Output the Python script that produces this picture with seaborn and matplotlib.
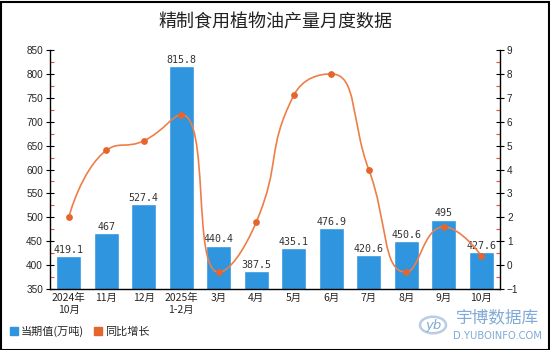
import numpy as np
import pandas as pd
import matplotlib
matplotlib.use("Agg")
import matplotlib.pyplot as plt
from matplotlib.path import Path
from matplotlib.patches import PathPatch, Rectangle, Circle
from matplotlib.lines import Line2D
from matplotlib.ticker import MultipleLocator
import seaborn as sns

# ---- data ----
categories = ["2024年\n10月", "11月", "12月", "2025年\n1-2月", "3月", "4月",
              "5月", "6月", "7月", "8月", "9月", "10月"]
output_values = [419.1, 467, 527.4, 815.8, 440.4, 387.5, 435.1, 476.9, 420.6, 450.6, 495, 427.6]
growth_values = [2.0, 4.8, 5.2, 6.3, -0.3, 1.8, 7.1, 8.0, 4.0, -0.3, 1.6, 0.4]
title = "精制食用植物油产量月度数据"
legend_labels = ["当期值(万吨)", "同比增长"]

bar_color = "#2E95DE"
line_color = "#EE7E48"
marker_color = "#E5652C"

sns.set_style("white")
plt.rcParams["font.family"] = ["Noto Sans CJK SC", "DejaVu Sans"]

fig = plt.figure(figsize=(5.5, 3.5), dpi=100)
W, H = 550, 350
ax = fig.add_axes([50 / W, (H - 289) / H, 450 / W, 239 / H])

df = pd.DataFrame({"cat": categories, "val": output_values})
sns.barplot(data=df, x="cat", y="val", color=bar_color, width=0.67,
            saturation=1, ax=ax, order=categories)
ax.set_xlim(-0.5, len(categories) - 0.5)
ax.set_ylim(350, 850)
ax.set_xlabel("")
ax.set_ylabel("")
ax.bar_label(ax.containers[0], labels=["%g" % v for v in output_values],
             padding=1, fontsize=7.2, family="DejaVu Sans Mono", color="#333333")

ax.yaxis.set_major_locator(MultipleLocator(50))
ax.yaxis.set_minor_locator(MultipleLocator(25))
ax.tick_params(axis="y", which="major", direction="inout", length=6, width=0.8,
               color="black", labelsize=7.2, pad=2)
ax.tick_params(axis="y", which="minor", direction="in", length=3, width=0.8,
               color="#E74C3C", left=True)
ax.tick_params(axis="x", length=0, labelsize=7.5, pad=3)
for lab in ax.get_yticklabels():
    lab.set_family("Liberation Sans")
for s in ["top", "right"]:
    ax.spines[s].set_visible(False)
for s in ["left", "bottom"]:
    ax.spines[s].set_color("black")
    ax.spines[s].set_linewidth(1)

# ---- growth line on twin axis ----
ax2 = ax.twinx()
ax2.set_ylim(-1, 9)
xs = np.arange(len(categories), dtype=float)
ys = np.array(growth_values, dtype=float)

# smooth bezier path (ECharts-style control points, clamped to neighbours)
sx, sy = 37.5, 24.0
smooth = 0.5
P = np.column_stack([xs * sx, ys * sy])
n = len(P)


def clamp(p, a, b):
    return np.minimum(np.maximum(p, np.minimum(a, b)), np.maximum(a, b))


cps = []
for i in range(n):
    if i == 0 or i == n - 1:
        cps.append((P[i].copy(), P[i].copy()))
        continue
    prev, cur, nxt = P[i - 1], P[i], P[i + 1]
    v = nxt - prev
    l0 = np.hypot(*(cur - prev))
    l1 = np.hypot(*(nxt - cur))
    r = l1 / (l0 + l1)
    cp1 = cur + v * smooth * r
    cp1 = clamp(cp1, cur, nxt)
    vv = cp1 - cur
    cp0 = cur - vv * (l0 / l1)
    cp0 = clamp(cp0, prev, cur)
    vv = cur - cp0
    cp1 = cur + vv * (l1 / l0)
    cps.append((cp0, cp1))

verts = [tuple(P[0])]
codes = [Path.MOVETO]
for i in range(n - 1):
    verts += [tuple(cps[i][1]), tuple(cps[i + 1][0]), tuple(P[i + 1])]
    codes += [Path.CURVE4] * 3
verts = [(vx / sx, vy / sy) for vx, vy in verts]
ax2.add_patch(PathPatch(Path(verts, codes), facecolor="none",
                        edgecolor=line_color, lw=1.2, zorder=3))
sns.scatterplot(x=xs, y=ys, color=marker_color, s=24, edgecolor=marker_color,
                linewidth=0, ax=ax2, zorder=4)
ax2.set_xlim(-0.5, len(categories) - 0.5)
ax2.yaxis.set_major_locator(MultipleLocator(1))
ax2.yaxis.set_minor_locator(MultipleLocator(0.5))
ax2.tick_params(axis="y", which="major", direction="inout", length=6, width=0.8,
                color="black", labelsize=7.2, pad=2, right=True, labelright=True,
                left=False, labelleft=False)
ax2.tick_params(axis="y", which="minor", direction="in", length=3, width=0.8,
                color="#E74C3C", right=True, left=False)
for lab in ax2.get_yticklabels():
    lab.set_family("Liberation Sans")
for s in ["top", "left", "bottom"]:
    ax2.spines[s].set_visible(False)
ax2.spines["right"].set_color("black")
ax2.spines["right"].set_linewidth(1)

# ---- title ----
fig.text(0.5, 1 - 22 / H, title, ha="center", va="center", fontsize=13, color="#222222")

# ---- legend ----
handles = [Line2D([], [], marker="s", ls="", color=bar_color, markersize=5.5),
           Line2D([], [], marker="s", ls="", color=marker_color, markersize=5.5)]
fig.legend(handles, legend_labels, loc="center left", bbox_to_anchor=(4 / W, 1 - 331 / H),
           ncol=2, frameon=False, fontsize=8, handletextpad=0.1, columnspacing=0.8,
           handlelength=1.0, borderaxespad=0)

# ---- watermark ----
wm = "#7FA9D6"
fig.patches.append(Circle((433 / W, 1 - 325 / H), 13 / W, transform=fig.transFigure,
                          facecolor="none", edgecolor="#B8CDE6", lw=1.8))
fig.text(433 / W, 1 - 325 / H, "yb", ha="center", va="center", fontsize=9.5,
         color=wm, style="italic", family="DejaVu Sans")
fig.text(497 / W, 1 - 318 / H, "宇博数据库", ha="center", va="center", fontsize=12,
         color=wm)
fig.text(497 / W, 1 - 336 / H, "D.YUBOINFO.COM", ha="center", va="center", fontsize=7.2,
         color=wm, family="DejaVu Sans")

# ---- border ----
fig.patches.append(Rectangle((0.5 / W, 0.5 / H), 1 - 2 / W, 1 - 2 / H,
                             transform=fig.transFigure, facecolor="none",
                             edgecolor="black", lw=1.5))

fig.savefig("out.png", dpi=100)
